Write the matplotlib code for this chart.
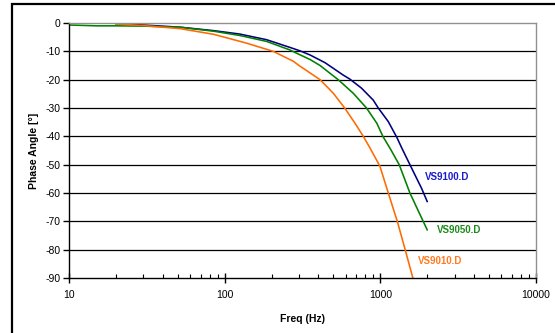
import matplotlib
matplotlib.use("Agg")
import matplotlib.pyplot as plt
from matplotlib.patches import Rectangle
from matplotlib.ticker import LogLocator, FixedLocator, NullFormatter

plt.rcParams['font.family'] = ['Liberation Sans', 'DejaVu Sans']

f_blue = [20, 30, 52, 85, 125, 186, 262, 304, 354, 441, 499, 578, 637, 757, 900, 970, 1125, 1280, 1370, 1549, 1842, 2000]
phase_blue = [-0.2, -0.7, -1.5, -2.7, -3.9, -5.9, -8.6, -9.8, -11.3, -14.0, -16, -18.4, -19.8, -23, -27.2, -30, -34.8, -40.5, -44, -50, -58.4, -63]

f_green = [10, 15, 20, 30, 52, 85, 125, 186, 262, 304, 354, 410, 536, 670, 815, 950, 1038, 1162, 1322, 1549, 1885, 2000]
phase_green = [-0.7, -1.0, -1.0, -1.1, -1.5, -2.9, -4.4, -6.5, -9.5, -11.2, -12.9, -15.0, -20, -24.8, -30, -35.4, -40, -44.5, -50, -60, -70, -73]

f_orange = [20, 30, 52, 85, 138, 205, 276, 304, 410, 499, 590, 688, 777, 860, 993, 1125, 1285, 1444, 1618]
phase_orange = [-0.35, -0.9, -2.0, -4.0, -7.1, -10, -13.5, -15.2, -20, -24.8, -30, -35.4, -40, -44.2, -50.5, -60, -70, -80, -90]

labels = ["VS9100.D", "VS9050.D", "VS9010.D"]
yticks = [0, -10, -20, -30, -40, -50, -60, -70, -80, -90]
xticks = [10, 100, 1000, 10000]

fig = plt.figure(figsize=(5.55, 3.33), dpi=100)
ax = fig.add_axes([69/555, 1-278/333, (536-69)/555, (278-23)/333])

ax.plot(f_blue, phase_blue, color='#000080', lw=1.15)
ax.plot(f_green, phase_green, color='#008000', lw=1.15)
ax.plot(f_orange, phase_orange, color='#ff6a00', lw=1.15)

ax.set_xscale('log')
ax.set_xlim(10, 10000)
ax.set_ylim(-90, 0)
ax.set_yticks(yticks)
ax.set_yticklabels([str(v) for v in yticks])
ax.xaxis.set_major_locator(FixedLocator(xticks))
ax.set_xticklabels([str(v) for v in xticks])
ax.xaxis.set_minor_locator(LogLocator(base=10, subs=range(2, 10)))
ax.xaxis.set_minor_formatter(NullFormatter())

for v in yticks[1:-1]:
    ax.axhline(v, color='black', lw=0.9, zorder=0)

ax.spines['top'].set_color('#909090')
ax.spines['right'].set_color('#909090')
ax.spines['left'].set_color('black')
ax.spines['bottom'].set_color('black')
for s in ax.spines.values():
    s.set_linewidth(1.0)

ax.tick_params(axis='y', direction='out', length=4, width=1, labelsize=7.5, pad=2)
ax.tick_params(axis='x', which='major', direction='inout', length=7, width=1, labelsize=7.5, pad=5)
ax.tick_params(axis='x', which='minor', direction='in', length=3, width=0.8)

ax.set_xlabel("Freq (Hz)", fontsize=7.5, fontweight='bold', labelpad=10)
ax.set_ylabel("Phase Angle [°]", fontsize=7.5, fontweight='bold', labelpad=5)

ax.text(1940, -54.5, labels[0], color='#1a1ad0', fontsize=7, fontweight='bold', va='center')
ax.text(2300, -73.1, labels[1], color='#1a8a1a', fontsize=7, fontweight='bold', va='center')
ax.text(1757, -84.0, labels[2], color='#ff7a20', fontsize=7, fontweight='bold', va='center')

fig.patches.append(Rectangle((12/555, -0.2), 1.2, 1.2 - 4/333, transform=fig.transFigure,
                             fill=False, edgecolor='black', lw=1.6))

fig.savefig("out.png", dpi=100)
